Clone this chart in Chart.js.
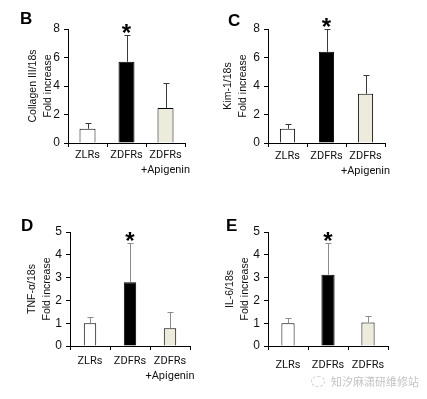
<!DOCTYPE html>
<html>
<head>
<meta charset="utf-8">
<script src="https://cdn.jsdelivr.net/npm/chart.js@4.4.1/dist/chart.umd.min.js"></script>
<style>
  body { margin: 0; background: #fff; }
  #wrap { position: relative; width: 427px; height: 399px; overflow: hidden; }
  canvas { position: absolute; }
  #mark { position: absolute; left: 311px; top: 373px; font: 11px "Noto Sans CJK SC", sans-serif; color: #c4c4c4; white-space: nowrap; }
  #mark span { display: inline-block; width: 12px; height: 9px; border: 1px dashed #cfcfcf; border-radius: 50%; margin-right: 6px; vertical-align: -1px; }
</style>
</head>
<body>
<div id="wrap">
  <canvas id="pB" width="213" height="200" style="left:0;top:0"></canvas>
  <canvas id="pC" width="214" height="200" style="left:213px;top:0"></canvas>
  <canvas id="pD" width="213" height="199" style="left:0;top:200px"></canvas>
  <canvas id="pE" width="214" height="199" style="left:213px;top:200px"></canvas>
  <div id="mark"><span></span>知汐麻潇研维修站</div>
</div>
<script>
// groups
var categories = ['ZLRs', 'ZDFRs', ['ZDFRs', '+Apigenin']];
var categoriesE = ['ZLRs', 'ZDFRs', 'ZDFRs'];

// fold increase (mean) and top of the error bar (mean + SD)
var collagenMean = [1.0, 5.7, 2.45];
var collagenTop  = [1.42, 7.55, 4.22];
var kimMean = [1.0, 6.4, 3.45];
var kimTop  = [1.32, 8.0, 4.75];
var tnfMean = [1.0, 2.8, 0.78];
var tnfTop  = [1.27, 4.53, 1.5];
var il6Mean = [1.0, 3.13, 1.03];
var il6Top  = [1.25, 4.5, 1.32];

var starAt = 1; // ZDFRs marked significant in every panel

var barFill = ['#ffffff', '#000000', '#ecebdc'];

// error bars, asterisk and panel letter
var errorBarPlugin = {
  id: 'errorBars',
  afterDatasetsDraw: function(chart, args, opts) {
    var ctx = chart.ctx;
    var y = chart.scales.y;
    var bars = chart.getDatasetMeta(0).data;
    ctx.save();
    ctx.lineWidth = 1;
    ctx.strokeStyle = opts.color;
    bars.forEach(function(bar, i) {
      var x = Math.round(bar.x) + 0.5;
      var yTop = Math.round(y.getPixelForValue(opts.tops[i])) + 0.5;
      ctx.beginPath();
      ctx.moveTo(x, bar.y);
      ctx.lineTo(x, yTop);
      ctx.moveTo(x - 3, yTop);
      ctx.lineTo(x + 3, yTop);
      ctx.stroke();
      if (i === opts.star) {
        ctx.fillStyle = '#000';
        ctx.font = 'bold 24px "Liberation Sans", Arial, sans-serif';
        ctx.textAlign = 'center';
        ctx.textBaseline = 'alphabetic';
        ctx.fillText('*', bar.x, yTop - 8 + 13);
      }
    });
    ctx.fillStyle = '#000';
    ctx.font = 'bold 17px "Liberation Sans", Arial, sans-serif';
    ctx.textAlign = 'left';
    ctx.textBaseline = 'middle';
    ctx.fillText(opts.letter, opts.letterX, opts.letterY);
    ctx.restore();
  }
};

var xFont = { family: '"Liberation Sans Narrow", Roboto, sans-serif', size: 11, lineHeight: '15px' };
var yFont = { family: '"Liberation Sans", Arial, sans-serif', size: 12 };
var titleFont = { family: '"Liberation Sans", Arial, sans-serif', size: 10.5, lineHeight: '15px' };

function makePanel(id, p) {
  var canvas = document.getElementById(id);
  var W = canvas.width, H = canvas.height;
  return new Chart(canvas, {
    type: 'bar',
    data: {
      labels: p.labels,
      datasets: [{
        data: p.mean,
        backgroundColor: barFill,
        borderColor: '#000',
        borderWidth: 1,
        barPercentage: p.barPct,
        categoryPercentage: 1
      }]
    },
    options: {
      responsive: false,
      animation: false,
      devicePixelRatio: 1,
      layout: { padding: { left: 0, top: p.area.top, right: W - p.area.right, bottom: 0 } },
      plugins: {
        legend: { display: false },
        tooltip: { enabled: false },
        errorBars: {
          tops: p.tops, color: p.errColor, star: starAt,
          letter: p.letter, letterX: p.letterPos[0], letterY: p.letterPos[1]
        }
      },
      scales: {
        x: {
          grid: { drawOnChartArea: false, tickLength: 4, color: '#000', offset: true },
          border: { color: '#000' },
          ticks: { font: xFont, color: '#111', padding: p.xPad, maxRotation: 0, autoSkip: false },
          afterFit: function(s) { s.height = H - p.area.bottom; }
        },
        y: {
          min: 0,
          max: p.yMax,
          ticks: { stepSize: p.yStep, font: yFont, color: '#111', padding: 4 },
          grid: { drawOnChartArea: false, tickLength: 4, color: '#000' },
          border: { color: '#000' },
          title: {
            display: true, text: p.title, font: titleFont, color: '#111',
            padding: { top: p.titlePad, bottom: 0 }
          },
          afterFit: function(s) { s.width = p.area.left; }
        }
      }
    },
    plugins: [errorBarPlugin]
  });
}

makePanel('pB', {
  letter: 'B', letterPos: [20, 19], labels: categories, mean: collagenMean, tops: collagenTop,
  title: ['Collagen III/18s', 'Fold increase'], titlePad: 25.5, yMax: 8, yStep: 2,
  area: { left: 68, right: 185, top: 29, bottom: 143 }, barPct: 0.41, xPad: 1, errColor: '#3a3a3a'
});
makePanel('pC', {
  letter: 'C', letterPos: [15, 21], labels: categories, mean: kimMean, tops: kimTop,
  title: ['Kim-1/18s', 'Fold increase'], titlePad: 7.5, yMax: 8, yStep: 2,
  area: { left: 55, right: 172, top: 29, bottom: 143 }, barPct: 0.39, xPad: 2, errColor: '#3a3a3a'
});
makePanel('pD', {
  letter: 'D', letterPos: [21, 26], labels: categories, mean: tnfMean, tops: tnfTop,
  title: ['TNF-α/18s', 'Fold increase'], titlePad: 24.5, yMax: 5, yStep: 1,
  area: { left: 70, right: 190, top: 32, bottom: 146 }, barPct: 0.31, xPad: 4, errColor: '#8c8c8c'
});
makePanel('pE', {
  letter: 'E', letterPos: [13, 26], labels: categoriesE, mean: il6Mean, tops: il6Top,
  title: ['IL-6/18s', 'Fold increase'], titlePad: 9.5, yMax: 5, yStep: 1,
  area: { left: 55, right: 175, top: 32, bottom: 146 }, barPct: 0.33, xPad: 8, errColor: '#8c8c8c'
});
</script>
</body>
</html>
